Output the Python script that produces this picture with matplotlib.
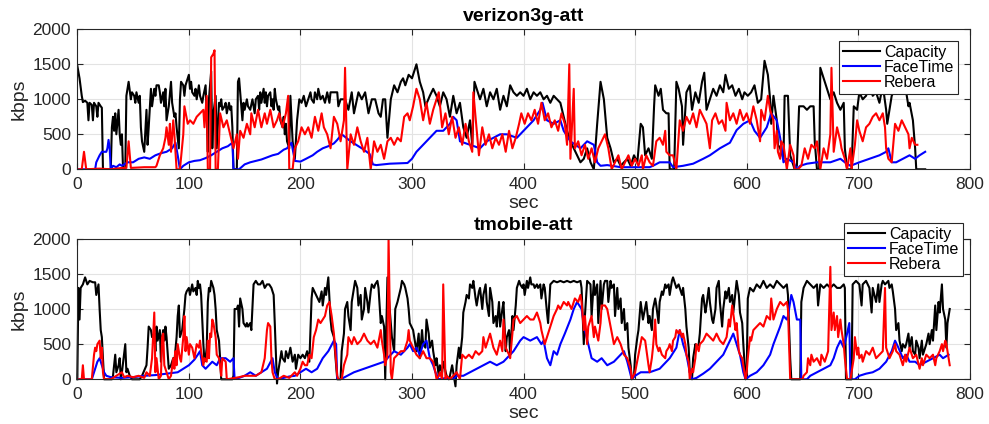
import matplotlib
matplotlib.use("Agg")
import matplotlib.pyplot as plt
import numpy as np

plt.rcParams['font.family'] = ['Liberation Sans', 'DejaVu Sans']

# [sec, kbps] pairs
cap1 = [[0,1480],[2,1300],[4,1050],[5,960],[7,980],[9,950],[10,700],[11,950],[13,920],[14,700],
        [15,950],[17,900],[18,750],[19,950],[21,900],[22,880],[23,0],[30,0],[31,600],[32,750],
        [33,550],[34,800],[35,500],[37,850],[38,500],[39,350],[40,500],[41,0],[43,0],[44,1050],
        [46,1250],[48,1000],[49,1100],[51,1050],[52,950],[53,1100],[55,950],[56,1050],[57,600],[58,400],
        [60,250],[62,850],[63,350],[64,600],[66,1150],[67,900],[69,1150],[70,1050],[71,1200],[73,1200],
        [74,1100],[75,950],[77,1100],[78,900],[79,1150],[80,700],[82,900],[84,1250],[85,950],[87,750],
        [88,800],[89,600],[91,300],[92,1000],[93,1250],[95,1200],[96,1050],[97,1200],[99,1300],[100,1350],
        [101,1150],[102,1250],[103,1100],[105,1050],[106,1150],[107,1000],[109,1200],[110,1050],[112,950],[113,1050],
        [115,1200],[116,800],[117,250],[118,1000],[120,1400],[121,300],[122,800],[124,1050],[125,300],[127,950],
        [128,900],[129,1000],[130,850],[132,900],[133,950],[134,800],[136,950],[137,850],[138,900],[139,600],
        [140,0],[143,0],[144,1250],[145,1300],[147,900],[148,700],[149,950],[150,850],[152,1000],[153,900],
        [155,850],[157,1000],[159,800],[160,1000],[162,1050],[163,850],[164,1100],[165,950],[167,1150],[168,950],
        [169,1100],[170,900],[171,1050],[173,1100],[174,900],[175,1000],[176,850],[177,1150],[178,1000],[180,850],
        [181,900],[182,700],[184,600],[185,750],[186,500],[187,650],[188,400],[190,300],[191,1050],[193,400],
        [195,150],[197,700],[199,1000],[201,950],[203,1050],[205,900],[207,1000],[209,1100],[210,1000],[212,950],
        [213,1100],[215,1000],[216,1150],[218,1000],[220,1050],[222,950],[224,1100],[226,950],[227,1100],[230,1100],
        [233,1100],[234,900],[236,1000],[240,1000],[243,850],[246,1100],[248,800],[252,1100],[255,1000],[258,1100],
        [261,800],[264,1000],[267,1000],[270,800],[272,750],[274,1000],[276,1000],[278,450],[281,1000],[284,1200],
        [287,1100],[290,1250],[292,1300],[294,1200],[297,1350],[300,1300],[302,1400],[304,1500],[307,1250],[310,1100],
        [312,900],[316,1050],[319,1150],[322,1050],[325,900],[328,1100],[331,1000],[334,750],[337,1050],[340,800],
        [343,950],[346,600],[349,450],[352,700],[354,350],[356,1250],[358,1150],[361,1000],[364,1150],[367,900],
        [370,1100],[373,1000],[376,1150],[379,850],[382,1050],[385,900],[388,1200],[391,1100],[394,1050],[397,1100],
        [400,1050],[403,1150],[406,1000],[409,1100],[412,1050],[415,1100],[418,1000],[421,1050],[424,950],[427,1050],
        [430,1000],[433,950],[436,750],[439,550],[442,400],[445,300],[448,200],[451,100],[454,150],[457,300],
        [460,100],[463,0],[466,650],[469,1250],[472,1000],[475,450],[478,300],[481,100],[484,150],[487,50],
        [490,100],[493,150],[496,50],[499,200],[502,100],[505,650],[507,600],[509,200],[512,300],[515,150],
        [517,900],[518,1200],[521,1050],[523,1150],[525,850],[528,800],[530,800],[531,0],[535,0],[537,1250],
        [539,1150],[542,900],[543,350],[546,1100],[549,1200],[551,850],[554,1100],[557,950],[560,1250],[562,1380],
        [564,850],[567,1000],[570,1150],[573,1050],[576,1200],[579,1100],[581,1350],[584,1150],[587,1200],[590,1050],
        [593,1150],[596,1000],[598,1100],[601,1050],[604,1100],[607,1200],[610,950],[613,1000],[616,1550],[619,1350],
        [621,1000],[622,650],[624,1050],[627,700],[628,350],[630,300],[633,150],[634,1050],[637,1050],[639,200],
        [642,50],[643,0],[645,50],[647,900],[651,900],[654,850],[657,900],[660,900],[661,400],[663,0],
        [665,0],[666,1450],[669,1300],[670,1250],[673,1100],[675,1000],[678,1100],[681,950],[684,850],[687,950],
        [688,300],[690,0],[694,0],[696,900],[699,850],[701,1100],[704,1000],[707,1050],[710,1200],[713,1050],
        [716,1100],[719,950],[722,1200],[725,850],[726,650],[730,1050],[733,1150],[736,1300],[739,1100],[742,1200],
        [745,900],[746,950],[749,700],[751,300],[752,0],[760,0]]

ft1 = [[0,0],[16,0],[17,100],[20,200],[22,250],[26,250],[27,300],[28,420],[29,300],[30,0],
       [32,50],[35,30],[38,70],[40,50],[45,100],[50,100],[55,150],[60,170],[65,150],[70,200],
       [75,230],[80,250],[85,300],[88,380],[90,200],[92,0],[95,50],[100,100],[105,120],[110,130],
       [115,160],[120,200],[125,250],[130,300],[135,330],[139,380],[140,0],[145,0],[150,70],[155,100],
       [160,120],[165,140],[170,170],[175,200],[180,220],[185,280],[188,300],[192,380],[195,120],[200,110],
       [205,150],[211,200],[215,250],[220,300],[225,330],[230,370],[233,420],[237,500],[245,400],[255,300],
       [262,220],[265,70],[268,60],[280,80],[296,90],[300,150],[304,250],[310,350],[316,450],[322,550],[328,550],
       [334,650],[337,750],[340,700],[343,400],[352,350],[361,300],[367,400],[379,500],[385,500],[394,450],
       [400,550],[409,700],[415,850],[417,950],[421,700],[427,650],[433,700],[436,550],[442,400],[451,300],
       [457,400],[463,350],[466,100],[469,50],[475,60],[487,30],[502,30],[513,30],[516,50],[522,100],
       [531,100],[534,30],[543,50],[552,80],[561,150],[567,200],[576,300],[585,380],[591,560],[597,650],
       [603,700],[607,550],[612,450],[618,600],[622,800],[627,700],[630,450],[633,100],[636,150],[642,100],
       [645,0],[648,50],[654,80],[663,100],[675,100],[684,150],[688,100],[693,50],[701,100],[710,150],
       [719,200],[725,250],[727,300],[730,100],[734,100],[740,150],[746,200],[751,150],[755,200],[760,250]]

rb1 = [[0,0],[4,0],[6,250],[8,0],[20,10],[30,0],[40,20],[44,20],[46,400],[48,20],
       [60,30],[70,30],[71,50],[74,200],[77,300],[79,450],[80,600],[82,350],[83,650],[84,250],
       [86,700],[87,500],[89,0],[92,0],[95,500],[96,900],[99,650],[101,700],[104,650],[107,750],
       [110,800],[113,850],[114,600],[116,1050],[117,0],[119,0],[120,1600],[122,1650],[123,1700],[124,0],
       [126,0],[128,800],[131,600],[134,700],[137,500],[140,300],[143,500],[144,150],[146,550],[149,450],
       [152,650],[155,500],[156,800],[159,600],[162,850],[165,600],[168,800],[170,650],[173,850],[176,600],
       [179,700],[181,800],[184,600],[187,800],[189,1050],[190,0],[193,0],[195,300],[198,400],[201,600],
       [204,500],[207,600],[210,450],[213,750],[216,550],[219,800],[221,600],[224,500],[227,300],[230,750],
       [233,650],[236,400],[239,700],[240,1450],[242,0],[245,500],[248,350],[251,600],[254,400],[257,250],
       [260,450],[263,0],[266,400],[269,250],[272,350],[275,150],[278,400],[281,450],[284,350],[287,450],
       [290,400],[293,750],[296,800],[298,700],[301,900],[304,1150],[307,1000],[310,700],[313,950],[316,650],
       [319,850],[322,1000],[324,1100],[327,600],[330,800],[333,500],[336,750],[339,450],[342,600],[345,350],
       [348,650],[351,400],[354,250],[355,1100],[358,550],[360,200],[363,600],[366,350],[369,500],[372,300],
       [375,450],[378,350],[381,500],[384,250],[387,550],[390,300],[393,450],[396,650],[398,800],[401,650],
       [404,800],[407,700],[410,850],[413,650],[416,950],[419,700],[422,800],[425,600],[428,700],[431,550],
       [434,800],[437,650],[439,350],[441,1500],[442,150],[445,1150],[446,300],[449,400],[452,200],[455,350],
       [458,150],[461,300],[464,100],[467,300],[470,400],[473,500],[476,300],[479,0],[482,100],[485,200],
       [488,0],[491,100],[494,200],[497,50],[500,150],[503,50],[506,200],[507,0],[510,200],[513,100],
       [516,50],[519,400],[522,450],[525,350],[527,550],[528,250],[531,200],[534,200],[537,0],[540,700],
       [543,550],[546,750],[549,650],[552,800],[555,600],[558,850],[561,750],[564,650],[567,300],[569,700],
       [572,800],[575,650],[578,700],[581,550],[582,950],[585,700],[588,800],[591,650],[594,850],[597,700],
       [600,800],[603,650],[606,900],[609,700],[612,400],[613,850],[616,700],[619,1050],[621,850],[624,700],
       [625,300],[627,550],[628,250],[630,150],[631,400],[633,350],[636,0],[639,350],[642,200],[643,0],
       [646,0],[649,50],[652,300],[655,150],[658,350],[661,300],[663,400],[666,0],[669,300],[672,150],
       [675,500],[676,1450],[678,250],[681,600],[684,400],[685,300],[688,150],[690,0],[693,300],[694,0],
       [697,350],[699,700],[701,550],[704,400],[707,600],[710,650],[713,750],[716,800],[719,700],[722,800],
       [724,600],[725,300],[727,150],[730,100],[733,650],[736,550],[739,700],[742,600],[745,500],[746,300],
       [748,450],[751,350],[753,350]]

cap2 = [[0,0],[1,1300],[2,850],[3,1300],[5,1350],[7,1450],[9,1350],[11,1400],[14,1380],[16,1380],
        [17,1200],[19,1350],[20,1000],[21,700],[22,600],[23,300],[24,0],[31,0],[32,50],[34,350],
        [35,100],[37,200],[38,300],[39,0],[40,100],[43,500],[44,100],[45,150],[47,50],[49,0],
        [56,0],[58,50],[62,200],[63,450],[64,750],[66,700],[67,600],[69,650],[70,400],[71,750],
        [72,550],[74,700],[75,250],[76,600],[77,700],[78,550],[79,750],[80,600],[82,150],[84,200],
        [86,300],[87,250],[89,600],[90,900],[91,1050],[92,600],[94,700],[96,1000],[97,1200],[98,1250],
        [100,1300],[101,1200],[103,1350],[104,1250],[106,1300],[107,1200],[108,1400],[109,1300],[110,1350],[111,1200],
        [112,850],[113,500],[114,250],[115,300],[116,450],[117,1100],[118,1300],[119,1250],[120,1400],[121,1350],
        [122,1300],[123,1200],[124,1000],[125,700],[127,550],[128,300],[129,0],[139,0],[140,50],[141,1000],
        [143,1000],[144,1050],[145,750],[146,1150],[148,1000],[149,800],[151,750],[152,800],[153,750],[155,800],
        [156,700],[158,1350],[160,1400],[162,1350],[164,1350],[166,1400],[168,1300],[170,1350],[172,1350],[174,1300],
        [176,1200],[177,800],[178,350],[179,-60],[180,100],[182,300],[183,400],[184,300],[186,250],[187,400],
        [189,300],[191,450],[193,250],[195,350],[196,150],[198,350],[200,300],[202,350],[204,300],[206,400],
        [208,250],[210,1150],[211,1300],[214,1200],[217,1100],[219,1250],[220,1050],[222,1300],[223,1200],[225,1450],
        [226,1150],[227,850],[228,700],[230,600],[231,400],[233,0],[236,0],[237,400],[239,650],[240,1000],
        [242,1100],[243,900],[245,700],[246,1100],[248,1300],[249,1400],[251,1300],[252,1050],[254,1200],[255,850],
        [257,1000],[258,1300],[260,1100],[261,950],[263,1250],[264,1350],[266,1300],[267,1350],[269,1400],[270,1300],
        [272,800],[273,900],[275,750],[276,0],[278,1450],[280,1000],[282,600],[284,400],[285,1000],[287,1100],
        [290,1300],[291,1400],[293,1350],[294,1300],[296,1150],[297,1000],[298,800],[301,700],[304,400],[306,650],
        [307,300],[309,700],[310,500],[312,450],[313,850],[315,650],[316,450],[318,550],[319,400],[321,200],
        [322,300],[324,50],[325,200],[327,100],[328,250],[331,50],[333,0],[334,50],[336,200],[337,100],
        [339,-100],[340,200],[342,450],[343,300],[345,600],[346,950],[348,1100],[349,1200],[351,1150],[352,1350],
        [354,1300],[355,1400],[357,1150],[358,1050],[360,1250],[361,1300],[363,1000],[364,1200],[366,1350],[367,1100],
        [369,900],[370,1300],[372,1100],[373,800],[375,900],[376,750],[378,1100],[379,750],[381,1000],[382,1100],
        [384,400],[385,600],[387,700],[388,350],[390,900],[391,700],[393,1050],[394,1300],[396,1400],[397,1350],
        [399,1300],[400,1350],[401,1200],[403,1400],[404,1300],[406,1450],[407,1350],[409,1350],[410,1300],[412,1350],
        [413,1300],[415,1350],[416,1150],[418,1350],[419,1300],[421,950],[422,800],[424,1350],[427,1400],[430,1380],
        [433,1400],[436,1380],[439,1400],[442,1380],[445,1400],[448,1380],[451,1400],[452,1300],[454,500],[455,900],
        [457,1400],[460,1350],[461,900],[463,1400],[464,1200],[466,1350],[467,800],[469,1400],[470,1000],[472,1350],
        [473,1400],[475,1400],[476,1100],[478,1400],[479,1300],[481,1350],[482,900],[484,1300],[485,1000],[487,1150],
        [488,800],[490,1000],[491,700],[493,800],[494,450],[496,200],[497,0],[499,50],[500,350],[502,600],
        [503,700],[505,1100],[507,850],[510,1100],[512,800],[513,900],[515,700],[516,1000],[518,1150],[519,1050],
        [521,800],[522,1100],[524,1250],[525,1200],[527,1350],[528,1300],[530,1350],[531,1200],[533,1400],[534,1450],
        [536,1350],[537,1300],[539,1350],[540,1300],[542,1200],[543,1300],[545,1000],[546,750],[548,450],[549,100],
        [551,0],[552,300],[554,500],[555,450],[557,500],[558,650],[560,1150],[561,1200],[563,950],[564,1050],
        [566,1300],[567,1100],[569,850],[570,800],[572,1000],[573,1300],[575,1400],[576,1100],[578,750],[579,1000],
        [581,1250],[582,1150],[584,1300],[585,1100],[587,1200],[588,950],[590,1250],[591,1400],[593,1200],[594,950],
        [596,800],[597,500],[599,0],[600,50],[601,1150],[603,1300],[606,1250],[609,1350],[612,1300],[615,1400],
        [618,1300],[621,1350],[624,1300],[627,1400],[630,1350],[633,1300],[636,1350],[637,1200],[639,300],[640,0],
        [648,0],[649,1100],[651,1300],[654,1400],[657,1350],[660,1300],[663,1350],[664,1050],[666,1350],[669,1300],
        [672,1350],[675,1300],[678,1350],[681,1300],[684,1300],[687,1350],[688,1300],[689,0],[694,0],[695,1350],
        [698,1400],[701,1350],[703,1050],[704,1350],[707,1400],[710,1300],[712,950],[713,1300],[716,1100],[718,1350],
        [719,1100],[721,1350],[722,1400],[724,1350],[727,1400],[728,1300],[730,1350],[731,1250],[733,1000],[734,700],
        [736,800],[737,550],[739,400],[740,500],[742,450],[743,500],[745,650],[746,450],[748,600],[749,400],
        [751,350],[752,550],[754,450],[755,300],[757,550],[758,350],[760,450],[761,500],[763,650],[764,500],
        [766,700],[767,550],[769,1050],[770,700],[772,1100],[773,950],[775,1350],[776,1000],[778,850],[779,450],
        [780,800],[782,1000]]

ft2 = [[0,0],[13,0],[14,50],[16,150],[18,250],[20,300],[22,200],[24,100],[26,50],[30,30],
       [40,20],[50,30],[60,50],[70,60],[80,80],[90,100],[95,150],[100,200],[105,280],[108,350],
       [110,400],[112,200],[115,150],[118,200],[121,250],[125,200],[128,300],[133,300],[137,250],[140,300],
       [141,0],[145,20],[150,50],[155,100],[160,50],[165,100],[170,150],[175,300],[177,100],[180,0],
       [185,20],[190,40],[195,50],[200,100],[205,150],[210,100],[215,150],[220,300],[225,400],[230,550],
       [232,500],[233,0],[236,0],[242,50],[248,100],[257,150],[266,200],[275,250],[278,300],[284,400],
       [290,350],[296,450],[298,500],[301,400],[304,450],[307,350],[310,500],[313,550],[316,300],[319,200],
       [321,100],[324,0],[331,20],[337,0],[340,50],[346,50],[352,100],[358,150],[364,200],[370,250],
       [376,200],[382,250],[388,350],[391,400],[397,550],[400,600],[406,550],[412,600],[416,500],[418,550],
       [421,300],[424,200],[427,400],[430,350],[433,500],[437,650],[442,850],[445,1000],[448,1100],[452,1000],
       [455,700],[458,500],[461,300],[466,250],[470,300],[475,200],[481,250],[487,350],[490,400],[493,250],
       [497,0],[500,50],[505,100],[513,100],[522,150],[531,300],[537,450],[540,700],[543,500],[546,350],
       [549,100],[551,0],[555,20],[561,80],[567,150],[573,250],[579,350],[585,550],[588,650],[591,500],
       [594,350],[597,100],[599,0],[603,50],[609,100],[615,200],[621,350],[624,500],[630,750],[633,900],
       [636,850],[637,900],[640,1200],[642,1100],[645,850],[648,850],[649,0],[654,0],[657,50],[663,100],
       [669,150],[675,200],[678,300],[681,450],[684,550],[687,450],[690,650],[692,800],[693,0],[697,0],
       [701,50],[707,80],[713,100],[719,150],[725,250],[730,400],[733,550],[736,450],[740,300],[743,350],
       [746,250],[751,250],[755,200],[761,250],[767,300],[773,350],[776,300],[781,350]]

rb2 = [[0,0],[4,0],[5,200],[6,0],[13,0],[15,350],[16,450],[17,400],[18,500],[20,550],
       [21,300],[22,450],[23,100],[24,0],[30,0],[35,50],[40,100],[42,30],[45,50],[50,30],
       [55,50],[60,20],[62,100],[65,50],[67,300],[69,950],[70,100],[71,300],[73,0],[75,50],
       [76,600],[77,650],[78,200],[80,100],[82,0],[84,50],[86,300],[87,150],[88,400],[89,200],
       [90,500],[92,300],[93,250],[95,600],[96,900],[97,400],[98,600],[100,350],[101,500],[103,450],
       [105,300],[107,500],[109,450],[110,550],[111,400],[113,200],[114,300],[116,250],[117,550],[118,300],
       [119,650],[120,600],[121,850],[122,800],[124,600],[125,350],[127,300],[128,200],[129,50],[130,300],
       [133,250],[134,0],[145,30],[150,50],[160,50],[165,100],[168,300],[170,700],[171,800],[173,750],
       [174,300],[175,100],[177,0],[180,0],[185,50],[190,20],[195,100],[197,50],[200,150],[202,250],
       [204,200],[206,200],[208,350],[210,300],[212,600],[214,700],[216,850],[218,800],[220,850],[222,900],
       [224,1050],[226,1100],[228,900],[230,650],[231,450],[233,50],[234,0],[237,0],[239,200],[242,350],
       [243,600],[246,500],[248,600],[251,500],[254,550],[257,650],[260,550],[263,500],[266,550],[269,450],
       [272,700],[273,550],[275,350],[276,200],[278,350],[279,2000],[281,100],[282,0],[284,300],[287,350],
       [290,400],[293,400],[296,550],[297,700],[298,550],[301,450],[304,350],[307,300],[310,400],[313,300],
       [316,300],[319,250],[321,100],[322,0],[324,50],[325,100],[327,0],[328,1350],[330,0],[331,50],
       [334,0],[337,50],[340,100],[343,0],[345,350],[348,300],[351,350],[354,300],[357,400],[360,350],
       [363,400],[364,600],[366,450],[367,500],[370,650],[373,450],[376,350],[379,550],[381,400],[382,850],
       [384,450],[387,350],[388,300],[390,650],[391,850],[394,900],[397,800],[400,850],[403,900],[406,850],
       [409,850],[412,950],[415,800],[416,700],[419,500],[421,600],[424,750],[427,900],[430,1000],[431,1050],
       [433,1000],[436,1100],[439,1050],[440,1100],[443,1000],[446,1150],[449,1100],[451,1200],[452,1100],[454,700],
       [455,900],[457,500],[458,750],[461,900],[463,600],[464,750],[467,550],[469,800],[470,1050],[473,1050],
       [475,1000],[478,750],[481,500],[484,600],[487,500],[490,350],[493,300],[496,150],[497,0],[500,100],
       [503,350],[506,600],[509,550],[512,200],[513,100],[515,300],[516,450],[518,850],[519,500],[521,400],
       [522,450],[524,350],[527,300],[528,400],[530,450],[531,500],[533,400],[534,550],[536,600],[537,700],
       [539,650],[540,700],[542,600],[543,650],[545,500],[546,350],[548,250],[549,0],[551,150],[552,100],
       [554,300],[555,500],[557,400],[558,500],[561,550],[564,650],[567,600],[570,550],[573,650],[576,550],
       [579,500],[582,600],[584,850],[585,750],[587,1050],[590,700],[591,800],[593,400],[594,350],[596,300],
       [597,200],[599,0],[600,100],[601,300],[603,600],[604,550],[606,700],[609,750],[612,800],[615,750],
       [618,900],[621,850],[622,1150],[624,850],[627,1000],[630,1100],[633,1050],[636,1100],[637,1000],[639,0],
       [650,0],[651,50],[654,100],[655,300],[657,200],[658,350],[660,250],[663,300],[666,200],[667,350],
       [670,250],[673,400],[675,1600],[676,700],[678,950],[679,700],[681,900],[682,600],[684,850],[685,700],
       [687,500],[688,300],[690,0],[693,0],[694,100],[696,300],[697,600],[699,350],[700,450],[701,300],
       [703,350],[704,250],[707,400],[710,350],[713,450],[716,300],[719,350],[722,400],[724,1300],[725,450],
       [728,300],[731,400],[733,500],[734,400],[737,350],[740,200],[742,350],[743,250],[746,450],[749,300],
       [752,350],[755,150],[757,300],[758,200],[761,350],[764,300],[767,350],[769,200],[770,300],[773,400],
       [775,500],[776,400],[778,550],[779,500],[782,200]]

titles = ['verizon3g-att', 'tmobile-att']
labels = ['Capacity', 'FaceTime', 'Rebera']
colors = ['black', 'blue', 'red']
panels = [(cap1, ft1, rb1), (cap2, ft2, rb2)]

W, H = 989, 424
fig = plt.figure(figsize=(W / 100, H / 100), dpi=100)
axes_px = [(77.3, 29.3, 969.8, 169.3), (77.3, 238.7, 969.8, 379.3)]
legend_anchor = [(0.9871, 0.9186), (0.9927, 1.1138)]
ink = '#262626'

for i, (x0, y0, x1, y1) in enumerate(axes_px):
    ax = fig.add_axes([x0 / W, 1 - y1 / H, (x1 - x0) / W, (y1 - y0) / H])
    for j, series in enumerate(panels[i]):
        t, v = np.array(series).T
        ax.plot(t, v, color=colors[j], lw=1.5, label=labels[j],
                clip_on=not (i == 1 and j == 0))
    ax.set_xlim(0, 800)
    ax.set_ylim(0, 2000)
    ax.set_xticks(np.arange(0, 801, 100))
    ax.set_yticks(np.arange(0, 2001, 500))
    ax.grid(True, color='#e3e3e3', lw=0.8)
    ax.set_axisbelow(True)
    ax.tick_params(direction='in', top=True, right=True, length=4,
                   labelsize=12.5, colors=ink, width=0.8)
    ax.tick_params(axis='x', pad=5.5)
    ax.tick_params(axis='y', pad=4.5)
    for s in ax.spines.values():
        s.set_color(ink)
        s.set_linewidth(0.8)
    ax.set_xlabel('sec', fontsize=14, color=ink, labelpad=2)
    ax.set_ylabel('kbps', fontsize=14, color=ink, labelpad=3.5)
    ax.set_title(titles[i], fontsize=14, fontweight='bold', pad=6)
    leg = ax.legend(loc='upper right', bbox_to_anchor=legend_anchor[i],
                    fontsize=11.5, fancybox=False, framealpha=1,
                    edgecolor=ink, borderpad=0.25, labelspacing=0.0,
                    handlelength=2.3, handletextpad=0.25, borderaxespad=0)
    leg.get_frame().set_linewidth(0.8)
    leg.set_zorder(5)

fig.savefig('out.png', dpi=100)
